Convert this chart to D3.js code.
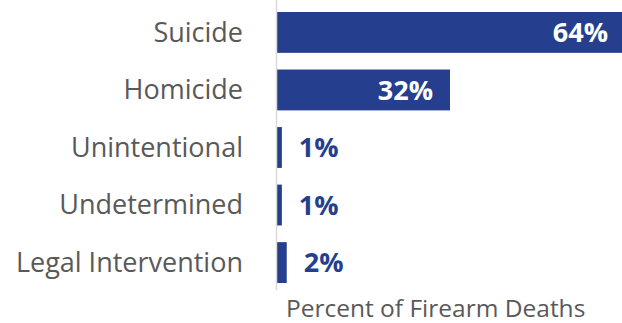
<!DOCTYPE html>
<html>
<head>
<meta charset="utf-8">
<script src="https://cdn.jsdelivr.net/npm/d3@7"></script>
<style>
  body { margin: 0; background: #fff; }
  svg { display: block; font-family: "Open Sans", sans-serif; }
</style>
</head>
<body>
<div id="chart"></div>
<script>
// data
const categories = ["Suicide", "Homicide", "Unintentional", "Undetermined", "Legal Intervention"];
const percents = [64, 32, 1, 1, 2];
const barWidths = [64, 32, 0.9, 0.9, 1.8]; // drawn lengths (labels are rounded)
const axisTitle = "Percent of Firearm Deaths";

const W = 622, H = 323;
const margin = { top: 12, left: 277 };

const svg = d3.select("#chart")
    .append("svg")
    .attr("width", W)
    .attr("height", H);

// scales
const x = d3.scaleLinear().domain([0, 64]).range([margin.left, 623]);
const y = d3.scaleBand()
    .domain(categories)
    .range([margin.top, 283])
    .paddingInner(0.29)
    .paddingOuter(0);

const blue = "#253f8e";

// bars
svg.selectAll("rect.bar")
    .data(categories)
    .join("rect")
    .attr("class", "bar")
    .attr("x", x(0))
    .attr("y", d => y(d))
    .attr("width", (d, i) => x(barWidths[i]) - x(0))
    .attr("height", y.bandwidth())
    .attr("fill", blue);

// vertical axis line
svg.append("line")
    .attr("x1", x(0) - 0.5).attr("x2", x(0) - 0.5)
    .attr("y1", 0).attr("y2", 290)
    .attr("stroke", "#d9d9d9")
    .attr("stroke-width", 1.5);

// category labels
svg.selectAll("text.cat")
    .data(categories)
    .join("text")
    .attr("class", "cat")
    .attr("x", 243)
    .attr("y", d => y(d) + y.bandwidth() / 2)
    .attr("dy", "0.35em")
    .attr("text-anchor", "end")
    .attr("fill", "#595959")
    .style("font-size", "27px")
    .text(d => d);

// value labels: inside for big bars, outside for small ones
svg.selectAll("text.val")
    .data(categories)
    .join("text")
    .attr("class", "val")
    .attr("y", d => y(d) + y.bandwidth() / 2)
    .attr("dy", "0.36em")
    .style("font-size", "27px")
    .style("font-weight", "bold")
    .each(function(d, i) {
        const inside = percents[i] > 10;
        d3.select(this)
            .attr("x", inside ? x(barWidths[i]) - (i === 0 ? 15 : 17) : x(barWidths[i]) + 17)
            .attr("text-anchor", inside ? "end" : "start")
            .attr("fill", inside ? "#fff" : blue)
            .text(percents[i] + "%");
    });

// axis title
svg.append("text")
    .attr("x", 286)
    .attr("y", 316.5)
    .attr("fill", "#595959")
    .style("font-size", "24.5px")
    .text(axisTitle);
</script>
</body>
</html>
